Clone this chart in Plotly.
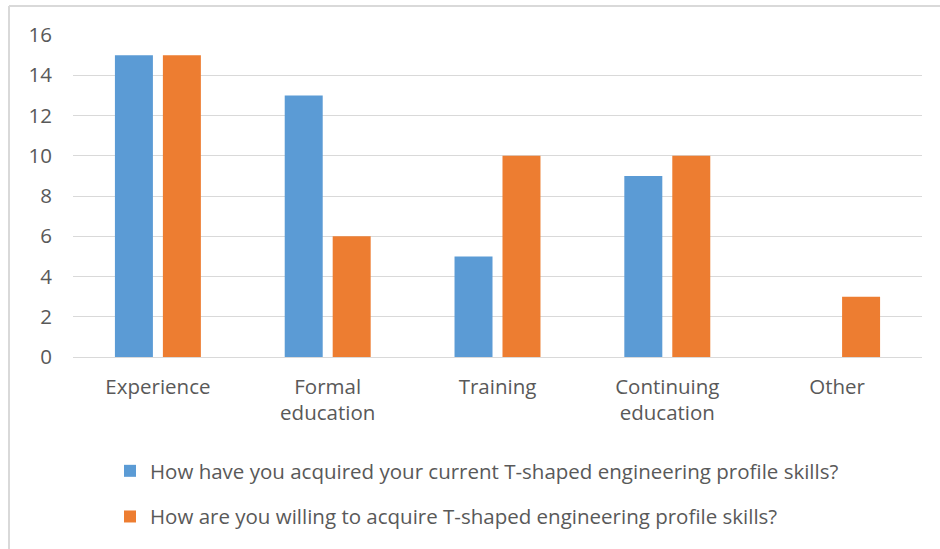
import plotly.graph_objects as go

categories = ["Experience", "Formal<br>education", "Training", "Continuing<br>education", "Other"]
current_vals = [15, 13, 5, 9, None]
willing_vals = [15, 6, 10, 10, 3]
series_names = [
    "How have you acquired your current T-shaped engineering profile skills?",
    "How are you willing to acquire T-shaped engineering profile skills?",
]
y_ticks = [0, 2, 4, 6, 8, 10, 12, 14, 16]

W, H = 940, 549
ml, mr, mt, mb = 73, 18, 35, 192
pw, ph = W - ml - mr, H - mt - mb

font_family = "'Open Sans', Lato, sans-serif"
fs = 20.5
grey = "#595959"

fig = go.Figure()
fig.add_trace(go.Bar(x=categories, y=current_vals, name=series_names[0],
                     marker=dict(color="#5b9bd5", line=dict(width=0)), legendgroup="a"))
fig.add_trace(go.Bar(x=categories, y=willing_vals, name=series_names[1],
                     marker=dict(color="#ed7d31", line=dict(width=0)), legendgroup="b"))

# outer chart border (top and left visible)
fig.add_shape(type="line", xref="paper", yref="paper",
              x0=(9 - ml) / pw, x1=(W + 5 - ml) / pw, y0=(H - 6 - mb) / ph, y1=(H - 6 - mb) / ph,
              line=dict(color="#d9d9d9", width=2))
fig.add_shape(type="line", xref="paper", yref="paper",
              x0=(9 - ml) / pw, x1=(9 - ml) / pw, y0=(H - 6 - mb) / ph, y1=(-20 - mb) / ph,
              line=dict(color="#d9d9d9", width=2))

fig.update_layout(
    width=W, height=H,
    margin=dict(l=ml, r=mr, t=mt, b=mb),
    paper_bgcolor="white", plot_bgcolor="white",
    barmode="group", bargap=0.435, bargroupgap=0.208,
    font=dict(family=font_family, size=fs, color=grey),
    showlegend=True,
    legend=dict(orientation="v", x=(110 - ml) / pw, xanchor="left",
                y=1 - (451 - mt) / ph, yanchor="top",
                font=dict(size=fs, color=grey), tracegroupgap=16,
                itemwidth=30, bgcolor="rgba(0,0,0,0)"),
    xaxis=dict(showgrid=False, showline=False, ticks="", tickfont=dict(size=fs, color=grey),
               ticklabelstandoff=15),
    yaxis=dict(range=[0, 16], tickvals=y_ticks, showgrid=True, gridcolor="#d9d9d9", gridwidth=1,
               zeroline=True, zerolinecolor="#d9d9d9", zerolinewidth=1, showline=False,
               ticks="", tickfont=dict(size=fs, color=grey), ticklabelstandoff=20),
)

fig.write_html("out.html", config={"displayModeBar": False},
               post_script="document.body.style.margin='0';document.body.style.overflow='hidden';")
